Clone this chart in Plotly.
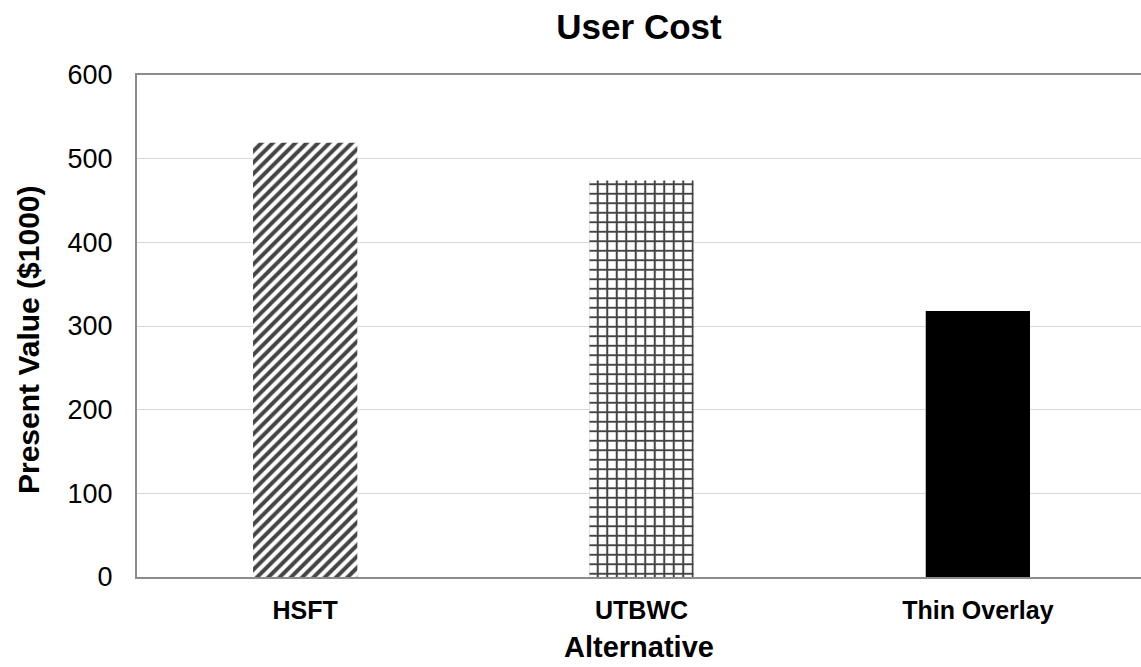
import plotly.graph_objects as go

# Present value of user cost per rehabilitation alternative ($1000)
alternatives = ["HSFT", "UTBWC", "Thin Overlay"]
user_cost = [519, 474, 318]

# Fill style per bar
pattern_shapes = ["/", "+", ""]
pattern_sizes = [8, 9.5, 8]
pattern_solidity = [0.5, 0.38, 0.5]
bar_colors = ["white", "white", "black"]

FONT = "Liberation Sans, Arial, sans-serif"

fig = go.Figure(
    go.Bar(
        x=alternatives,
        y=user_cost,
        width=0.31,
        marker=dict(
            color=bar_colors,
            line=dict(width=0),
            pattern=dict(
                shape=pattern_shapes,
                fgcolor="black",
                fgopacity=1,
                bgcolor=bar_colors,
                size=pattern_sizes,
                solidity=pattern_solidity,
                fillmode="overlay",
            ),
        ),
        showlegend=False,
    )
)

fig.update_layout(
    width=1141,
    height=667,
    margin=dict(l=137, r=0, t=75, b=90),
    paper_bgcolor="white",
    plot_bgcolor="white",
    title=dict(
        text="<b>User Cost</b>",
        x=(137 + 1141) / 2 / 1141,
        xanchor="center",
        y=1 - 27 / 667,
        yanchor="middle",
        font=dict(family=FONT, size=35, color="black"),
    ),
    font=dict(family=FONT, color="black"),
    annotations=[
        dict(
            text="<b>Present Value ($1000)</b>",
            textangle=-90,
            xref="paper",
            yref="paper",
            x=-(137 - 28) / (1141 - 137),
            y=(577 - 340) / (577 - 75),
            xanchor="center",
            yanchor="middle",
            showarrow=False,
            font=dict(family=FONT, size=30, color="black"),
        )
    ],
)

fig.update_xaxes(
    range=[-0.5, 2.485],
    showline=True,
    linecolor="#8c8c8c",
    linewidth=2,
    mirror=True,
    showgrid=False,
    ticks="",
    ticklabelstandoff=10,
    tickfont=dict(family=FONT, size=25, color="black"),
    tickvals=alternatives,
    ticktext=[f"<b>{a}</b>" for a in alternatives],
    title=dict(
        text="<b>Alternative</b>",
        font=dict(family=FONT, size=29, color="black"),
        standoff=14,
    ),
)

fig.update_yaxes(
    range=[0, 600],
    dtick=100,
    showline=True,
    linecolor="#8c8c8c",
    linewidth=2,
    showgrid=True,
    gridcolor="#d9d9d9",
    gridwidth=1,
    ticks="",
    ticklabelstandoff=17,
    tickfont=dict(family=FONT, size=27, color="black"),
    zeroline=False,
)

fig.write_html("out.html")
